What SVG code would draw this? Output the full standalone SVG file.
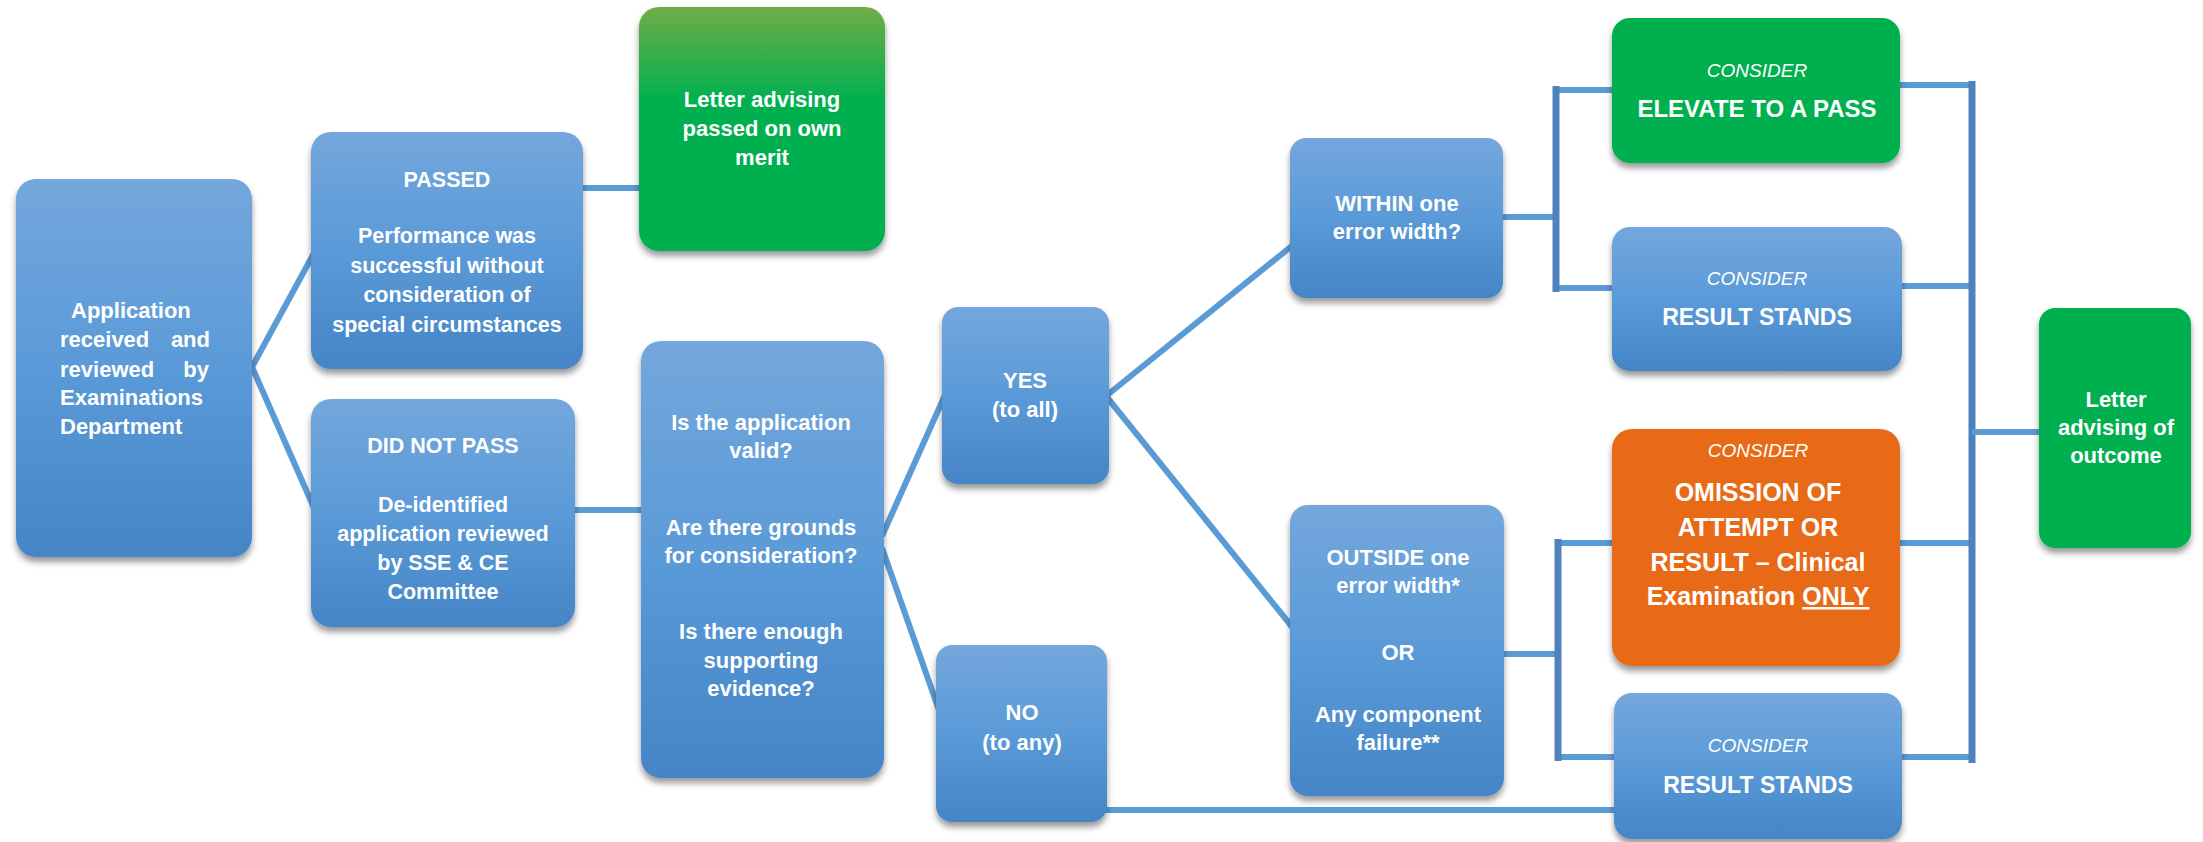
<svg xmlns="http://www.w3.org/2000/svg" width="2203" height="842" viewBox="0 0 2203 842">
<defs>
<linearGradient id="gBlue" x1="0" y1="0" x2="0" y2="1">
<stop offset="0" stop-color="#74A7DC"/>
<stop offset="0.5" stop-color="#5A9AD8"/>
<stop offset="1" stop-color="#4585C6"/>
</linearGradient>
<linearGradient id="gMerit" x1="0" y1="0" x2="0" y2="1">
<stop offset="0" stop-color="#70AD47"/>
<stop offset="0.38" stop-color="#00B050"/>
<stop offset="1" stop-color="#00B050"/>
</linearGradient>
<filter id="sh" x="-10%" y="-10%" width="120%" height="125%">
<feDropShadow dx="0" dy="5" stdDeviation="3" flood-color="#000" flood-opacity="0.4"/>
</filter>
</defs>
<style>
.blue{fill:url(#gBlue);filter:url(#sh)}
.green{fill:#00B050;filter:url(#sh)}
.merit{fill:url(#gMerit);filter:url(#sh)}
.orange{fill:#E86B17;filter:url(#sh)}
.c{stroke:#5B9BD5;stroke-width:6;fill:none}
.v{stroke:#4F81BD;stroke-width:7;fill:none}
text{font-family:"Liberation Sans",Arial,sans-serif;font-weight:bold;fill:#fff;text-anchor:middle}
.t{font-size:22px}
.p{font-size:21.5px}
.big{font-size:24px}
.rs{font-size:23px}
.om{font-size:25px}
.con{font-size:19px;font-style:italic;font-weight:normal}
.l{text-anchor:start}
.r{text-anchor:end}
</style>
<rect width="2203" height="842" fill="#fff"/>
<g id="connectors">
<line class="c" x1="252" y1="367" x2="314" y2="253"/>
<line class="c" x1="252" y1="367" x2="314" y2="508"/>
<line class="c" x1="580" y1="188" x2="642" y2="188"/>
<line class="c" x1="572" y1="510" x2="644" y2="510"/>
<line class="c" x1="882" y1="536" x2="945" y2="395"/>
<line class="c" x1="882" y1="548" x2="939" y2="710"/>
<line class="c" x1="1106" y1="396" x2="1293" y2="245"/>
<line class="c" x1="1106" y1="396" x2="1293" y2="628"/>
<line class="c" x1="1104" y1="810" x2="1617" y2="810"/>
<line class="c" x1="1500" y1="217" x2="1556" y2="217"/>
<line class="c" x1="1556" y1="90" x2="1615" y2="90"/>
<line class="c" x1="1556" y1="288" x2="1615" y2="288"/>
<line class="v" x1="1556" y1="86" x2="1556" y2="292"/>
<line class="c" x1="1501" y1="654" x2="1558" y2="654"/>
<line class="c" x1="1558" y1="543" x2="1615" y2="543"/>
<line class="c" x1="1558" y1="757" x2="1617" y2="757"/>
<line class="v" x1="1558" y1="539" x2="1558" y2="761"/>
<line class="c" x1="1897" y1="85" x2="1972" y2="85"/>
<line class="c" x1="1899" y1="286" x2="1972" y2="286"/>
<line class="c" x1="1897" y1="543" x2="1972" y2="543"/>
<line class="c" x1="1899" y1="757" x2="1972" y2="757"/>
<line class="v" x1="1972" y1="81" x2="1972" y2="763"/>
<line class="c" x1="1972" y1="432" x2="2042" y2="432"/>
</g>
<g id="application">
<rect class="blue" x="16" y="179" width="236" height="378" rx="20"/>
<text class="t l" x="71" y="318">Application</text>
<text class="t l" x="60" y="347">received</text><text class="t r" x="210" y="347">and</text>
<text class="t l" x="60" y="377">reviewed</text><text class="t r" x="209" y="377">by</text>
<text class="t l" x="60" y="405">Examinations</text>
<text class="t l" x="60" y="434">Department</text>
</g>
<g id="passed">
<rect class="blue" x="311" y="132" width="272" height="237" rx="20"/>
<text class="p" x="447" y="187">PASSED</text>
<text class="p" x="447" y="243">Performance was</text>
<text class="p" x="447" y="273">successful without</text>
<text class="p" x="447" y="302">consideration of</text>
<text class="p" x="447" y="332">special circumstances</text>
</g>
<g id="did-not-pass">
<rect class="blue" x="311" y="399" width="264" height="228" rx="20"/>
<text class="p" x="443" y="453">DID NOT PASS</text>
<text class="p" x="443" y="512">De-identified</text>
<text class="p" x="443" y="541">application reviewed</text>
<text class="p" x="443" y="570">by SSE &amp; CE</text>
<text class="p" x="443" y="599">Committee</text>
</g>
<g id="merit">
<rect class="merit" x="639" y="7" width="246" height="244" rx="20"/>
<text class="t" x="762" y="107">Letter advising</text>
<text class="t" x="762" y="136">passed on own</text>
<text class="t" x="762" y="165">merit</text>
</g>
<g id="questions">
<rect class="blue" x="641" y="341" width="243" height="437" rx="20"/>
<text class="t" x="761" y="430">Is the application</text>
<text class="t" x="761" y="458">valid?</text>
<text class="t" x="761" y="535">Are there grounds</text>
<text class="t" x="761" y="563">for consideration?</text>
<text class="t" x="761" y="639">Is there enough</text>
<text class="t" x="761" y="668">supporting</text>
<text class="t" x="761" y="696">evidence?</text>
</g>
<g id="yes">
<rect class="blue" x="942" y="307" width="167" height="177" rx="16"/>
<text class="t" x="1025" y="388">YES</text>
<text class="t" x="1025" y="417">(to all)</text>
</g>
<g id="no">
<rect class="blue" x="936" y="645" width="171" height="177" rx="16"/>
<text class="t" x="1022" y="720">NO</text>
<text class="t" x="1022" y="750">(to any)</text>
</g>
<g id="within">
<rect class="blue" x="1290" y="138" width="213" height="160" rx="16"/>
<text class="t" x="1397" y="211">WITHIN one</text>
<text class="t" x="1397" y="239">error width?</text>
</g>
<g id="outside">
<rect class="blue" x="1290" y="505" width="214" height="291" rx="18"/>
<text class="t" x="1398" y="565">OUTSIDE one</text>
<text class="t" x="1398" y="593">error width*</text>
<text class="t" x="1398" y="660">OR</text>
<text class="t" x="1398" y="722">Any component</text>
<text class="t" x="1398" y="750">failure**</text>
</g>
<g id="elevate">
<rect class="green" x="1612" y="18" width="288" height="145" rx="18"/>
<text class="con" x="1757" y="77">CONSIDER</text>
<text class="big" x="1757" y="117">ELEVATE TO A PASS</text>
</g>
<g id="result-stands-1">
<rect class="blue" x="1612" y="227" width="290" height="144" rx="18"/>
<text class="con" x="1757" y="285">CONSIDER</text>
<text class="rs" x="1757" y="325">RESULT STANDS</text>
</g>
<g id="omission">
<rect class="orange" x="1612" y="429" width="288" height="237" rx="20"/>
<text class="con" x="1758" y="457">CONSIDER</text>
<text class="om" x="1758" y="501">OMISSION OF</text>
<text class="om" x="1758" y="536">ATTEMPT OR</text>
<text class="om" x="1758" y="571">RESULT – Clinical</text>
<text class="om" x="1758" y="605">Examination <tspan text-decoration="underline">ONLY</tspan></text>
</g>
<g id="result-stands-2">
<rect class="blue" x="1614" y="693" width="288" height="146" rx="18"/>
<text class="con" x="1758" y="752">CONSIDER</text>
<text class="rs" x="1758" y="793">RESULT STANDS</text>
</g>
<g id="outcome">
<rect class="green" x="2039" y="308" width="152" height="240" rx="16"/>
<text class="t" x="2116" y="407">Letter</text>
<text class="t" x="2116" y="435">advising of</text>
<text class="t" x="2116" y="463">outcome</text>
</g>
</svg>
